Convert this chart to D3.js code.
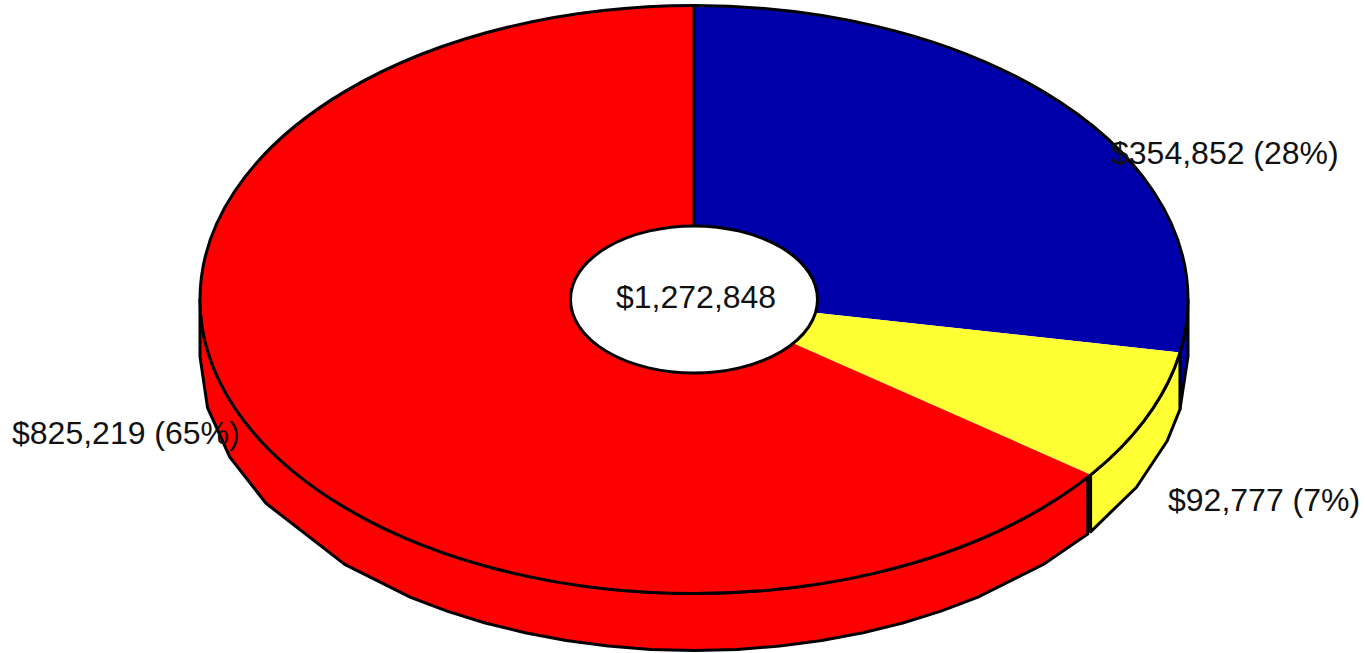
<!DOCTYPE html>
<html>

<head>
    <meta charset="utf-8">
    <style>
        html, body {
            margin: 0;
            padding: 0;
            background: white;
            overflow: hidden;
        }

        svg {
            display: block;
        }

        text {
            font-family: 'Liberation Sans', Arial, sans-serif;
            font-size: 32px;
            fill: #111;
        }
    </style>
</head>

<body>
    <svg width="1365" height="653"></svg>

    <script src="https://d3js.org/d3.v7.min.js"></script>
    <script>
        // values, clockwise from 12 o'clock
        const sliceValues = [354852, 92777, 825219];
        const sliceLabels = ["$354,852 (28%)", "$92,777 (7%)", "$825,219 (65%)"];
        const totalLabel = "$1,272,848";

        // the rim in the original is a coarse polygon at the sides and nearly smooth
        // along the bottom, these are its corners in degrees
        const rimCorners = [90, 106.7, 116.4, 135, 145, 150, 155, 160, 165, 170, 175, 180,
            185, 190, 195, 200, 205, 210, 215, 225, 240, 250, 260, 270];

        const colors = ["#0000aa", "#ffff33", "#ff0000"];

        const width = 1365;
        const height = 653;
        const cx = 694;
        const cy = 299.5;
        const rx = 494;
        const ry = 294;
        const depth = 57;
        const holeSize = 0.25;

        const svg = d3.select("svg");

        // unit circle -> tilted ellipse
        const x = d3.scaleLinear().domain([-1, 1]).range([cx - rx, cx + rx]);
        const y = d3.scaleLinear().domain([-1, 1]).range([cy - ry, cy + ry]);

        const rad = d => d * Math.PI / 180;
        const deg = r => r * 180 / Math.PI;

        const slices = d3.pie().sort(null).value(d => d)(sliceValues);

        const line = d3.line().x(d => d[0]).y(d => d[1]);

        const topPoint = a => [x(Math.sin(rad(a))), y(-Math.cos(rad(a)))];
        const rimPoint = a => [x(Math.sin(rad(a))), y(-Math.cos(rad(a))) + depth];

        // side wall of one slice, only the front half of the pie shows
        function wall(from, to) {
            let a0 = Math.max(from, 90);
            let a1 = Math.min(to, 270);
            let top = d3.range(a0, a1, 1).concat([a1]).map(topPoint);
            let corners = [a0].concat(rimCorners.filter(a => a > a0 && a < a1), [a1]);
            let rim = corners.map(rimPoint).reverse();
            return line(top.concat(rim)) + "Z";
        }

        // red wall stops a hair before the yellow one, leaves the double line
        const wallGap = [0, 0, 0.55];

        svg.selectAll(".wall")
            .data(slices)
            .join("path")
            .attr("class", "wall")
            .attr("d", (d, i) => wall(deg(d.startAngle) + wallGap[i], deg(d.endAngle)))
            .style("fill", (d, i) => colors[i])
            .style("stroke", "black")
            .style("stroke-width", 3)
            .style("stroke-linejoin", "round");

        // top face
        const arc = d3.arc().innerRadius(0).outerRadius(1);

        svg.selectAll(".slice")
            .data(slices)
            .join("path")
            .attr("class", "slice")
            .attr("d", arc)
            .attr("transform", `translate(${cx},${cy}) scale(${rx},${ry})`)
            .style("fill", (d, i) => colors[i])
            .style("stroke", "none");

        svg.append("ellipse")
            .attr("cx", cx)
            .attr("cy", cy)
            .attr("rx", rx)
            .attr("ry", ry)
            .style("fill", "none")
            .style("stroke", "black")
            .style("stroke-width", 3);

        // only the first slice edge gets a line
        svg.append("line")
            .attr("x1", x(0))
            .attr("y1", y(-1))
            .attr("x2", x(0))
            .attr("y2", y(-holeSize))
            .style("stroke", "black")
            .style("stroke-width", 3);

        svg.append("ellipse")
            .attr("cx", cx)
            .attr("cy", cy)
            .attr("rx", rx * holeSize)
            .attr("ry", ry * holeSize)
            .style("fill", "white")
            .style("stroke", "black")
            .style("stroke-width", 3);

        svg.append("text")
            .text(totalLabel)
            .attr("x", 616)
            .attr("y", 308);

        const labelX = [1111, 1168, 12];
        const labelY = [164, 511, 444];

        svg.selectAll(".label")
            .data(sliceLabels)
            .join("text")
            .attr("class", "label")
            .text(d => d)
            .attr("x", (d, i) => labelX[i])
            .attr("y", (d, i) => labelY[i]);
    </script>
</body>

</html>
